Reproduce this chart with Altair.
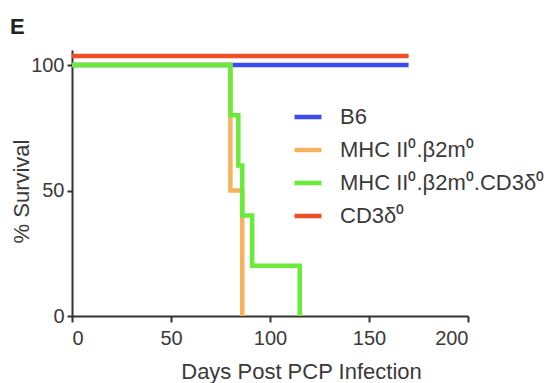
import altair as alt
import pandas as pd

groups = ["B6", "MHC II⁰.β2m⁰", "MHC II⁰.β2m⁰.CD3δ⁰", "CD3δ⁰"]
colors = ["#3D4CF0", "#F7B25E", "#69EB3A", "#EE4F25"]

b6_days = [0, 170]
b6_surv = [100, 100]
mhc_days = [0, 80, 86]
mhc_surv = [100, 50, 0]
mhc_cd3_days = [0, 80, 84, 86, 91, 115]
mhc_cd3_surv = [100, 80, 60, 40, 20, 0]
cd3_days = [0, 170]
cd3_surv = [100, 100]

x_ticks = [0, 50, 100, 150, 200]
y_ticks = [0, 50, 100]

FONT = "Liberation Sans"
TXT = "#3a3a3a"


def frame(name, days, surv):
    return pd.DataFrame({"day": days, "survival": surv, "group": name})


x_enc = alt.X(
    "day:Q",
    scale=alt.Scale(domain=[0, 200], nice=False),
    axis=alt.Axis(
        values=x_ticks, title="Days Post PCP Infection", grid=False,
        tickSize=6, labelPadding=6, titleX=229, titleY=62,
        titleAlign="center", titleBaseline="alphabetic",
    ),
)
y_enc = alt.Y(
    "survival:Q",
    scale=alt.Scale(domain=[0, 106], nice=False),
    axis=alt.Axis(
        values=y_ticks, title="% Survival", grid=False,
        tickSize=5, labelPadding=3, titleX=-44, titleY=141,
        titleAlign="center", titleBaseline="alphabetic", titleAngle=270,
    ),
)
color_enc = alt.Color(
    "group:N",
    scale=alt.Scale(domain=groups, range=colors),
    sort=groups,
    legend=alt.Legend(title=None),
)


def layer(df, **mark_kw):
    return alt.Chart(df).mark_line(
        interpolate="step-after", strokeWidth=4.5, **mark_kw
    ).encode(x=x_enc, y=y_enc, color=color_enc)


chart = alt.layer(
    layer(frame(groups[0], b6_days, b6_surv)),
    layer(frame(groups[1], mhc_days, mhc_surv)),
    layer(frame(groups[2], mhc_cd3_days, mhc_cd3_surv)),
    layer(frame(groups[3], cd3_days, cd3_surv), yOffset=-9),
).properties(
    width=396,
    height=266,
    autosize=alt.AutoSizeParams(type="none"),
    padding={"left": 72, "top": 50, "right": 85, "bottom": 67},
    title=alt.TitleParams(
        "E", anchor="start", frame="group", dx=-62, dy=26, offset=17,
        baseline="alphabetic", fontSize=22, fontWeight="bold",
        font=FONT, color="#222222",
    ),
).configure_view(stroke=None).configure_axis(
    domainColor="#333333", domainWidth=2, tickColor="#333333", tickWidth=2,
    labelFont=FONT, labelFontSize=20, labelColor=TXT,
    titleFont=FONT, titleFontSize=22, titleColor=TXT, titleFontWeight="normal",
).configure_legend(
    orient="none", legendX=220, legendY=51, padding=0,
    symbolType="stroke", symbolSize=729, symbolStrokeWidth=4.5,
    labelFont=FONT, labelFontSize=22, labelColor=TXT, labelOffset=16,
    rowPadding=6, labelLimit=400,
)

chart.save("out.html", embed_options={"renderer": "svg", "actions": False})
